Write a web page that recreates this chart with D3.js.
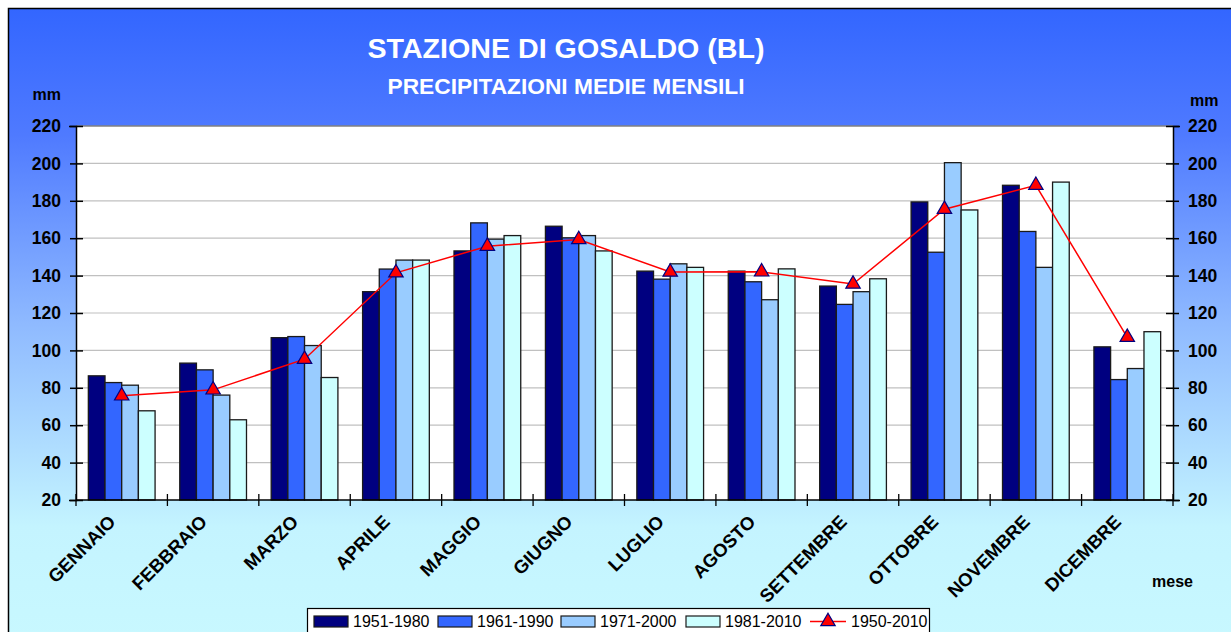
<!DOCTYPE html>
<html>
<head>
<meta charset="utf-8">
<script src="https://cdn.jsdelivr.net/npm/d3@7"></script>
<style>
  html, body { margin: 0; padding: 0; background: #ffffff; }
  svg { display: block; font-family: Arial, "Liberation Sans", sans-serif; }
</style>
</head>
<body>
<svg id="chart" width="1231" height="632"></svg>
<script>
// Monthly mean precipitation (mm), Gosaldo station
const months = ["GENNAIO", "FEBBRAIO", "MARZO", "APRILE", "MAGGIO", "GIUGNO",
                "LUGLIO", "AGOSTO", "SETTEMBRE", "OTTOBRE", "NOVEMBRE", "DICEMBRE"];
const periods = ["1951-1980", "1961-1990", "1971-2000", "1981-2010"];
const p1951_1980 = [86.4, 93.2, 106.8, 131.4, 153.2, 166.4, 142.4, 142.4, 134.4, 179.4, 188.3, 101.9];
const p1961_1990 = [82.8, 89.6, 107.4, 143.5, 168.2, 160.2, 138.1, 136.7, 124.6, 152.5, 163.6, 84.4];
const p1971_2000 = [81.4, 76.1, 102.6, 148.3, 159.5, 161.4, 146.3, 127.1, 131.4, 200.4, 144.4, 90.3];
const p1981_2010 = [67.7, 62.9, 85.5, 148.3, 161.4, 153.2, 144.4, 143.6, 138.3, 175.1, 190.0, 110.0];
const lineLabel = "1950-2010";
const p1950_2010 = [75.7, 78.9, 95.3, 141.5, 155.7, 159.3, 141.9, 142.0, 135.5, 175.5, 188.3, 107.0];
const yTicks = [20, 40, 60, 80, 100, 120, 140, 160, 180, 200, 220];

const barSeries = [p1951_1980, p1961_1990, p1971_2000, p1981_2010];
const barColors = ["#000080", "#3366ff", "#99ccff", "#ccffff"];

const W = 1231, H = 632;
const plot = { left: 76, right: 1173, top: 126, bottom: 500 };

const svg = d3.select("#chart");
const defs = svg.append("defs");
const grad = defs.append("linearGradient")
  .attr("id", "bgGrad").attr("x1", 0).attr("y1", 0).attr("x2", 0).attr("y2", 1);
grad.append("stop").attr("offset", "0%").attr("stop-color", "#3366ff");
grad.append("stop").attr("offset", "20%").attr("stop-color", "#4f7aff");
grad.append("stop").attr("offset", "50%").attr("stop-color", "#8fbaff");
grad.append("stop").attr("offset", "82%").attr("stop-color", "#c4f4ff");
grad.append("stop").attr("offset", "100%").attr("stop-color", "#c8f8ff");

// chart background and frame
svg.append("rect")
  .attr("x", 8.5).attr("y", 8.5).attr("width", W).attr("height", H)
  .attr("fill", "url(#bgGrad)").attr("stroke", "#000").attr("stroke-width", 1.5);

// plot area
svg.append("rect")
  .attr("x", plot.left).attr("y", plot.top)
  .attr("width", plot.right - plot.left).attr("height", plot.bottom - plot.top)
  .attr("fill", "#ffffff");

const x = d3.scaleBand().domain(months).range([plot.left, plot.right])
  .paddingInner(0.27).paddingOuter(0.135);
const xs = d3.scaleBand().domain(d3.range(barSeries.length)).range([0, x.bandwidth()]);
const y = d3.scaleLinear().domain([20, 220]).range([plot.bottom, plot.top]);
const step = (plot.right - plot.left) / months.length;

// gridlines
svg.append("g").selectAll("line").data(yTicks.slice(1, -1)).join("line")
  .attr("x1", plot.left).attr("x2", plot.right)
  .attr("y1", d => y(d)).attr("y2", d => y(d))
  .attr("stroke", "#c0c0c0").attr("stroke-width", 1.2);
svg.append("line")
  .attr("x1", plot.left).attr("x2", plot.right)
  .attr("y1", plot.top).attr("y2", plot.top)
  .attr("stroke", "#808080").attr("stroke-width", 1.5);

// bars
const groups = svg.append("g").selectAll("g").data(barSeries).join("g")
  .attr("fill", (d, i) => barColors[i]);
groups.each(function (vals, si) {
  d3.select(this).selectAll("rect").data(vals).join("rect")
    .attr("x", (v, mi) => x(months[mi]) + xs(si))
    .attr("y", v => y(v))
    .attr("width", xs.bandwidth())
    .attr("height", v => y(20) - y(v))
    .attr("stroke", "#1a1a1a").attr("stroke-width", 1.3);
});

// axes
const leftAxis = d3.axisLeft(y).tickValues(yTicks).tickSize(7).tickPadding(8);
const rightAxis = d3.axisRight(y).tickValues(yTicks).tickSize(7).tickPadding(8);
function styleAxis(g, side) {
  g.select(".domain").attr("stroke", "#000").attr("stroke-width", 1.5);
  g.selectAll(".tick line").attr("stroke", "#000").attr("stroke-width", 1.5)
    .attr("x2", side === "left" ? -6 : 6).attr("x1", side === "left" ? 7 : -7);
  g.selectAll(".tick text").attr("font-size", 17.5).attr("font-weight", "bold")
    .attr("fill", "#000").attr("font-family", "Arial, 'Liberation Sans', sans-serif");
}
svg.append("g").attr("transform", `translate(${plot.left},0)`).call(leftAxis)
  .call(g => styleAxis(g, "left"));
svg.append("g").attr("transform", `translate(${plot.right},0)`).call(rightAxis)
  .call(g => styleAxis(g, "right"));

// category axis with boundary ticks
svg.append("line").attr("x1", plot.left).attr("x2", plot.right)
  .attr("y1", plot.bottom).attr("y2", plot.bottom)
  .attr("stroke", "#000").attr("stroke-width", 1.5);
svg.append("g").selectAll("line").data(d3.range(months.length + 1)).join("line")
  .attr("x1", i => plot.left + i * step).attr("x2", i => plot.left + i * step)
  .attr("y1", plot.bottom - 6).attr("y2", plot.bottom + 6)
  .attr("stroke", "#000").attr("stroke-width", 1.3);
svg.append("g").selectAll("text").data(months).join("text")
  .attr("transform", d => `translate(${x(d) + x.bandwidth() / 2 - 5},523) rotate(-45)`)
  .attr("text-anchor", "end")
  .attr("font-size", 18.5).attr("font-weight", "bold").attr("fill", "#000")
  .text(d => d);

// 1950-2010 line with triangle markers
const cx = i => x(months[i]) + x.bandwidth() / 2;
svg.append("path").datum(p1950_2010)
  .attr("d", d3.line().x((v, i) => cx(i)).y(v => y(v)))
  .attr("fill", "none").attr("stroke", "#ff0000").attr("stroke-width", 1.5);
const tri = d3.symbol().type(d3.symbolTriangle).size(90);
svg.append("g").selectAll("path").data(p1950_2010).join("path")
  .attr("transform", (v, i) => `translate(${cx(i)},${y(v)})`)
  .attr("d", tri)
  .attr("fill", "#ff0000").attr("stroke", "#000080").attr("stroke-width", 1.2);

// titles
svg.append("text").attr("x", 566).attr("y", 58).attr("text-anchor", "middle")
  .attr("font-size", 27).attr("font-weight", "bold").attr("fill", "#ffffff")
  .attr("textLength", 397).attr("lengthAdjust", "spacingAndGlyphs")
  .text("STAZIONE DI GOSALDO (BL)");
svg.append("text").attr("x", 566).attr("y", 94).attr("text-anchor", "middle")
  .attr("font-size", 22).attr("font-weight", "bold").attr("fill", "#ffffff")
  .attr("textLength", 357).attr("lengthAdjust", "spacingAndGlyphs")
  .text("PRECIPITAZIONI MEDIE MENSILI");

// unit labels
svg.append("text").attr("x", 61).attr("y", 100).attr("text-anchor", "end")
  .attr("font-size", 16).attr("font-weight", "bold").text("mm");
svg.append("text").attr("x", 1190).attr("y", 106)
  .attr("font-size", 16).attr("font-weight", "bold").text("mm");
svg.append("text").attr("x", 1152).attr("y", 587)
  .attr("font-size", 16).attr("font-weight", "bold").text("mese");

// legend
const lg = svg.append("g");
lg.append("rect").attr("x", 307.5).attr("y", 608.5).attr("width", 622).attr("height", 40)
  .attr("fill", "#ffffff").attr("stroke", "#000").attr("stroke-width", 1.2);
const legendX = [314, 438, 561, 686];
periods.forEach((p, i) => {
  lg.append("rect").attr("x", legendX[i]).attr("y", 616).attr("width", 34).attr("height", 11)
    .attr("fill", barColors[i]).attr("stroke", "#1a1a1a").attr("stroke-width", 1.2);
  lg.append("text").attr("x", legendX[i] + 39).attr("y", 627)
    .attr("font-size", 16).attr("fill", "#000").text(p);
});
lg.append("line").attr("x1", 810).attr("x2", 846).attr("y1", 621.5).attr("y2", 621.5)
  .attr("stroke", "#ff0000").attr("stroke-width", 1.5);
lg.append("path").attr("transform", "translate(828,621.5)").attr("d", tri)
  .attr("fill", "#ff0000").attr("stroke", "#000080").attr("stroke-width", 1.2);
lg.append("text").attr("x", 851).attr("y", 627)
  .attr("font-size", 16).attr("fill", "#000").text(lineLabel);
</script>
</body>
</html>
